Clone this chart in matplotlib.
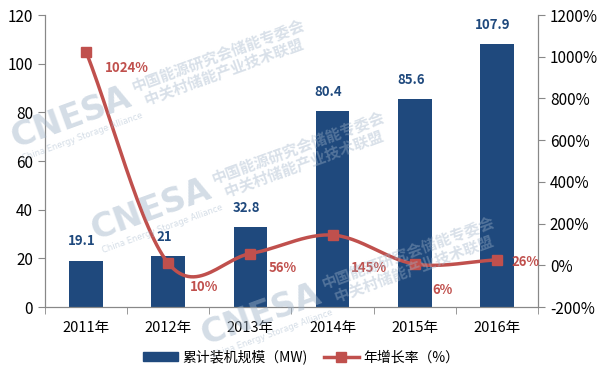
import numpy as np
import matplotlib
matplotlib.use("Agg")
import matplotlib.pyplot as plt
from matplotlib.lines import Line2D
from matplotlib.patches import Patch

plt.rcParams['font.family'] = ['Noto Sans CJK SC', 'DejaVu Sans']

years = ['2011年', '2012年', '2013年', '2014年', '2015年', '2016年']
capacity = [19.1, 21, 32.8, 80.4, 85.6, 107.9]
growth = [1024, 10, 56, 145, 6, 26]
capacity_labels = ['19.1', '21', '32.8', '80.4', '85.6', '107.9']
growth_labels = ['1024%', '10%', '56%', '145%', '6%', '26%']

bar_color = '#1F497D'
line_color = '#C0504D'
axis_color = '#888888'

fig = plt.figure(figsize=(6.02, 3.82), dpi=100)
ax = fig.add_axes([45/602, 1-307/382, (538-45)/602, (307-15)/382])
ax2 = ax.twinx()

x = np.arange(len(years))
ax.bar(x, capacity, width=0.41, color=bar_color, zorder=2)
ax.set_xlim(-0.5, len(years) - 0.5)
ax.set_ylim(0, 120)
ax.set_yticks(np.arange(0, 121, 20))
ax.set_xticks(x)
ax.set_xticklabels(years, fontsize=10.5)
ax.set_xticks(np.arange(-0.5, len(years), 1), minor=True)
ax.tick_params(axis='x', which='major', length=0, pad=10)
ax.tick_params(axis='x', which='minor', length=5, color=axis_color, direction='out')
ax.tick_params(axis='y', length=5, color=axis_color, labelsize=11)

for i, (v, t) in enumerate(zip(capacity, capacity_labels)):
    ax.text(i - 0.05, v + 5, t, ha='center', va='bottom', color=bar_color,
            fontsize=9.5, fontweight='bold')

# smoothed line (Catmull-Rom style as in spreadsheet smoothing)
def smooth(xs, ys, n=30):
    xs = np.asarray(xs, float); ys = np.asarray(ys, float)
    px = np.concatenate([[2*xs[0]-xs[1]], xs, [2*xs[-1]-xs[-2]]])
    py = np.concatenate([[2*ys[0]-ys[1]], ys, [2*ys[-1]-ys[-2]]])
    ox, oy = [], []
    for k in range(1, len(px) - 2):
        t = np.linspace(0, 1, n)
        p0, p1, p2, p3 = [np.array([px[j], py[j]]) for j in (k-1, k, k+1, k+2)]
        t2, t3 = t*t, t*t*t
        pts = 0.5*((2*p1)[:, None] + (-p0+p2)[:, None]*t + (2*p0-5*p1+4*p2-p3)[:, None]*t2
                   + (-p0+3*p1-3*p2+p3)[:, None]*t3)
        ox.extend(pts[0]); oy.extend(pts[1])
    return np.array(ox), np.array(oy)

sx, sy = smooth(x, growth)
ax2.plot(sx, sy, color=line_color, lw=2.5, zorder=3)
ax2.plot(x, growth, ls='none', marker='s', ms=7, color=line_color, zorder=4)
ax2.set_ylim(-200, 1200)
ax2.set_yticks(np.arange(-200, 1201, 200))
ax2.set_yticklabels([f'{v}%' for v in range(-200, 1201, 200)])
ax2.tick_params(axis='y', length=5, color=axis_color, labelsize=11)

offsets = [(0.5, -78), (0.43, -114), (0.39, -69), (0.44, -158), (0.34, -124), (0.35, -10)]
for i, (v, t) in enumerate(zip(growth, growth_labels)):
    dx, dy = offsets[i]
    ax2.text(i + dx, v + dy, t, ha='center', va='center', color=line_color,
             fontsize=9.5, fontweight='bold', zorder=5)

for a in (ax, ax2):
    a.spines['top'].set_visible(False)
    for s in ('left', 'right', 'bottom'):
        a.spines[s].set_color(axis_color)
ax.patch.set_visible(False)

# watermark
wm_color = '#9FB3C8'
def watermark(cx, cy, tx, ty):
    fig.text(cx/602, 1-cy/382, 'CNESA', fontsize=24, fontweight='bold', color=wm_color,
             alpha=0.45, rotation=20, family=['DejaVu Sans'], ha='left', va='baseline',
             rotation_mode='anchor')
    fig.text((cx+8)/602, 1-(cy+13)/382, 'China Energy Storage Alliance', fontsize=6,
             color=wm_color, alpha=0.45, rotation=20, family=['DejaVu Sans'],
             ha='left', va='baseline', rotation_mode='anchor')
    fig.text(tx/602, 1-ty/382, '中国能源研究会储能专委会\n  中关村储能产业技术联盟', fontsize=11,
             fontweight='bold', color=wm_color, alpha=0.4, rotation=20, linespacing=1.0,
             ha='left', va='baseline', rotation_mode='anchor')

watermark(15, 148, 140, 108)
watermark(95, 240, 220, 200)
watermark(205, 345, 330, 305)

handles = [Patch(color=bar_color),
           Line2D([0], [0], color=line_color, lw=2.5, marker='s', ms=7)]
fig.legend(handles, ['累计装机规模（MW)', '年增长率（%）'], loc='center',
           bbox_to_anchor=(0.5, 1-357/382), ncol=2, frameon=False, fontsize=10,
           handlelength=2.5, columnspacing=1.2, handletextpad=0.3)

fig.savefig('out.png', dpi=100)
